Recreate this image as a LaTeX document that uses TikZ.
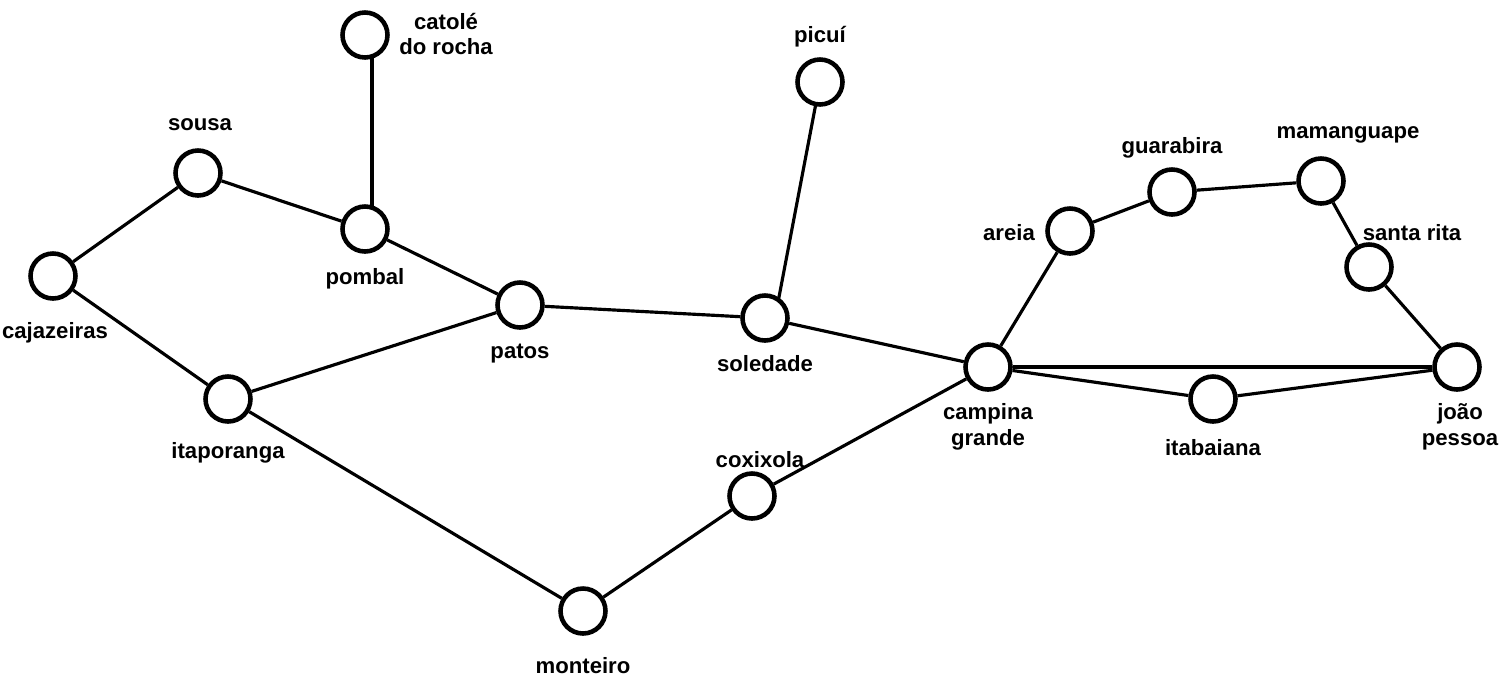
\documentclass[tikz,border=0pt]{standalone}
\usepackage{fontspec}
\setmainfont{Liberation Sans}
\usetikzlibrary{backgrounds}
\begin{document}
\begin{tikzpicture}[x=0.02cm,y=-0.02cm,
  city/.style={circle,draw=black,line width=2.6pt,minimum size=0.9cm,inner sep=0pt,fill=white},
  lbl/.style={font=\fontsize{12.6}{14.5}\selectfont\bfseries,align=center,inner sep=0pt},
  edge/.style={line width=1.8pt,black}]
\useasboundingbox (0,0) rectangle (1501,681);
% cities
\node[city] (catole) at (365,35) {};
\node[city] (picui) at (820,82) {};
\node[city] (sousa) at (198,173) {};
\node[city] (pombal) at (365,229) {};
\node[city] (cajazeiras) at (53,276) {};
\node[city] (patos) at (520,305) {};
\node[city] (soledade) at (765,318) {};
\node[city] (itaporanga) at (228,399) {};
\node[city] (campina) at (988,367) {};
\node[city] (areia) at (1070,231) {};
\node[city] (guarabira) at (1172,192) {};
\node[city] (mamanguape) at (1321,181) {};
\node[city] (santarita) at (1369,267) {};
\node[city] (joao) at (1457,367) {};
\node[city] (itabaiana) at (1213,399) {};
\node[city] (coxixola) at (752,496) {};
\node[city] (monteiro) at (583,611) {};
% labels
\node[lbl] (lcatole) at (446,34) {catolé\\do rocha};
\node[lbl] (lpicui) at (820,37) {picuí};
\node[lbl] (lsousa) at (200,125) {sousa};
\node[lbl] (lpombal) at (365,279) {pombal};
\node[lbl] (lcajazeiras) at (55,333) {cajazeiras};
\node[lbl] (lpatos) at (520,354) {patos};
\node[lbl] (lsoledade) at (765,364) {soledade};
\node[lbl] (litaporanga) at (228,453) {itaporanga};
\node[lbl] (lcampina) at (988,427) {campina\\grande};
\node[lbl] (lareia) at (1009,233) {areia};
\node[lbl] (lguarabira) at (1172,148) {guarabira};
\node[lbl] (lmamanguape) at (1348,135) {mamanguape};
\node[lbl] (lsantarita) at (1412,233) {santa rita};
\node[lbl] (ljoao) at (1460,427) {joão\\pessoa};
\node[lbl] (litabaiana) at (1213,448) {itabaiana};
\node[lbl] (lcoxixola) at (760,460) {coxixola};
\node[lbl] (lmonteiro) at (583,666) {monteiro};
% edges
\begin{scope}[on background layer]
\draw[edge] ([xshift=0.14cm]catole.center) -- ([xshift=0.14cm]pombal.center);
\draw[edge] (sousa) -- (pombal);
\draw[edge] (sousa) -- (cajazeiras);
\draw[edge] (cajazeiras) -- (itaporanga);
\draw[edge] (pombal) -- (patos);
\draw[edge] (itaporanga) -- (patos);
\draw[edge] (patos) -- (soledade);
\draw[edge] (picui.center) -- ([xshift=0.2cm]soledade.center);
\draw[edge] (soledade) -- (campina);
\draw[edge] (itaporanga) -- (monteiro);
\draw[edge] (monteiro) -- (coxixola);
\draw[edge] (coxixola) -- (campina);
\draw[edge] (campina) -- (areia);
\draw[edge] (areia) -- (guarabira);
\draw[edge] (guarabira) -- (mamanguape);
\draw[edge] (mamanguape) -- (santarita);
\draw[edge] (santarita) -- (joao);
\draw[edge] (campina) -- (joao);
\draw[edge] (campina) -- (itabaiana);
\draw[edge] (itabaiana) -- (joao);
\end{scope}
\end{tikzpicture}
\end{document}
